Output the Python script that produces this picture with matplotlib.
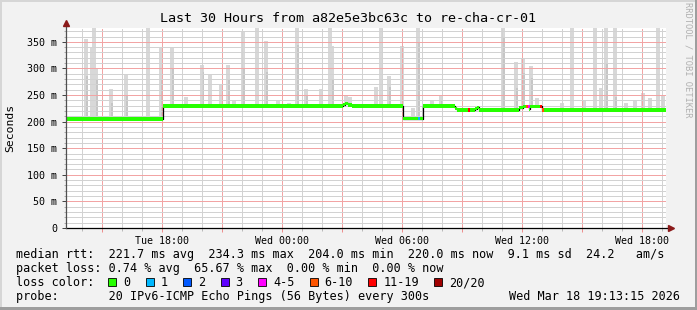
import matplotlib
matplotlib.use('Agg')
import matplotlib.pyplot as plt
import matplotlib.dates as mdates
from matplotlib.patches import Rectangle
import numpy as np
import pandas as pd

plt.rcParams['font.family'] = ['DejaVu Sans Mono']

start = pd.Timestamp('2026-03-17 13:13:15')
end = pd.Timestamp('2026-03-18 19:13:15')

# median rtt in ms, as change points of a step line
median_times = ['2026-03-17 13:13', '2026-03-17 18:05', '2026-03-18 03:04', '2026-03-18 03:10',
                '2026-03-18 03:19', '2026-03-18 03:31', '2026-03-18 06:05', '2026-03-18 07:05',
                '2026-03-18 08:39', '2026-03-18 08:46', '2026-03-18 09:40', '2026-03-18 09:46',
                '2026-03-18 09:52', '2026-03-18 11:52', '2026-03-18 12:04', '2026-03-18 12:21',
                '2026-03-18 12:26', '2026-03-18 13:01', '2026-03-18 19:12']
median_ms = [205.0, 229.5, 232.0, 234.3, 231.5, 229.5, 205.5, 229.5, 225.0, 222.0,
             224.5, 227.0, 222.0, 226.0, 228.5, 224.0, 228.5, 221.5, 221.5]

# smoke spikes: highest ping and second highest ping (0 = none)
spike_times = ['2026-03-17 14:13', '2026-03-17 14:31', '2026-03-17 14:37', '2026-03-17 14:43',
               '2026-03-17 15:28', '2026-03-17 16:13', '2026-03-17 17:19', '2026-03-17 17:58',
               '2026-03-17 18:31', '2026-03-17 19:13', '2026-03-17 20:01', '2026-03-17 20:25',
               '2026-03-17 20:58', '2026-03-17 21:19', '2026-03-17 21:37', '2026-03-17 22:04',
               '2026-03-17 22:46', '2026-03-17 23:13', '2026-03-17 23:49', '2026-03-18 00:22',
               '2026-03-18 00:46', '2026-03-18 01:13', '2026-03-18 01:58', '2026-03-18 02:25',
               '2026-03-18 02:31', '2026-03-18 03:13', '2026-03-18 03:25', '2026-03-18 04:43',
               '2026-03-18 04:58', '2026-03-18 05:22', '2026-03-18 06:01', '2026-03-18 06:34',
               '2026-03-18 06:49', '2026-03-18 07:31', '2026-03-18 07:58', '2026-03-18 11:04',
               '2026-03-18 11:43', '2026-03-18 12:04', '2026-03-18 12:28', '2026-03-18 12:46',
               '2026-03-18 14:01', '2026-03-18 14:31', '2026-03-18 15:07', '2026-03-18 15:40',
               '2026-03-18 15:58', '2026-03-18 16:13', '2026-03-18 16:40', '2026-03-18 17:13',
               '2026-03-18 17:40', '2026-03-18 18:04', '2026-03-18 18:25', '2026-03-18 18:49',
               '2026-03-18 19:04']
spike_top = [355, 338, 390, 300, 261, 288, 390, 339, 341, 247, 307, 290, 270, 307, 241, 368,
             390, 351, 240, 235, 390, 261, 261, 390, 342, 250, 247, 265, 390, 285, 343, 225,
             390, 238, 250, 390, 312, 317, 304, 244, 235, 390, 241, 390, 263, 390, 390, 235,
             238, 253, 245, 390, 250]
spike_mid = [286, 0, 0, 280, 235, 248, 0, 278, 300, 0, 293, 0, 0, 278, 0, 300,
             0, 294, 0, 0, 344, 250, 0, 0, 278, 0, 0, 0, 0, 265, 0, 0,
             347, 0, 240, 357, 263, 291, 282, 0, 0, 0, 0, 0, 0, 310, 247, 0,
             0, 0, 0, 0, 0]

# samples with packet loss (index into loss_labels)
loss_times = ['2026-03-18 06:49', '2026-03-18 09:19', '2026-03-18 12:14', '2026-03-18 12:19',
              '2026-03-18 12:56', '2026-03-18 13:01']
loss_cat = [1, 6, 5, 4, 6, 5]

loss_labels = ['0', '1', '2', '3', '4-5', '6-10', '11-19', '20/20']
loss_colors = ['#26ff00', '#00b8ff', '#0059ff', '#5e00ff', '#ff00ff', '#ff5500', '#ff0000', '#a00000']

rtt_stats = [221.7, 234.3, 204.0, 220.0]
rtt_sd = 9.1
rtt_ams = 24.2
loss_stats = [0.74, 65.67, 0.00, 0.00]

W, H = 697, 310
fig = plt.figure(figsize=(W / 100, H / 100), dpi=100, facecolor='#f2f2f2')


def fx(px):
    return px / W


def fy(py):
    return 1 - py / H


# 3d frame
fig.patches.append(Rectangle((0, 0), fx(2), 1, transform=fig.transFigure, color='#d6d6d6', lw=0))
fig.patches.append(Rectangle((0, 1 - 2 / H), 1, 2 / H, transform=fig.transFigure, color='#d6d6d6', lw=0))
fig.patches.append(Rectangle((1 - 2 / W, 0), 2 / W, 1, transform=fig.transFigure, color='#9e9e9e', lw=0))
fig.patches.append(Rectangle((0, 0), 1, 3 / H, transform=fig.transFigure, color='#9e9e9e', lw=0))

ax = fig.add_axes([fx(66), fy(228), 600 / W, 200 / H])
ax.set_facecolor('white')

mt = mdates.date2num(pd.to_datetime(median_times))
mv = np.array(median_ms)
step_min = 1 / 1440.0

# smoke
st = mdates.date2num(pd.to_datetime(spike_times))
base = mv[np.searchsorted(mt, st, side='right') - 1]
top = np.array(spike_top, dtype=float)
mid = np.array(spike_mid, dtype=float)
ax.bar(st, top - base, bottom=base, width=10 * step_min, color='#d8d8d8', lw=0, zorder=1)
has_mid = mid > 0
ax.bar(st[has_mid] + 3 * step_min, mid[has_mid] - base[has_mid], bottom=base[has_mid],
       width=6 * step_min, color='#c6c6c6', lw=0, zorder=1.1)

# median line with loss colour band
band = 3.2
ax.step(mt, mv, where='post', color='black', lw=0.9, zorder=3)
ax.fill_between(mt, mv - band, mv + band, step='post', color=loss_colors[0], lw=0, zorder=3.2)
lt = mdates.date2num(pd.to_datetime(loss_times))
lbase = mv[np.searchsorted(mt, lt, side='right') - 1]
ax.bar(lt, 2 * band, bottom=lbase - band, width=5 * step_min, align='edge',
       color=[loss_colors[c] for c in loss_cat], lw=0, zorder=3.4)

ax.set_xlim(mdates.date2num(start), mdates.date2num(end))
ax.set_ylim(0, 376)

# grid and ticks
ax.xaxis.set_major_locator(mdates.HourLocator(byhour=range(0, 24, 3)))
ax.xaxis.set_minor_locator(mdates.HourLocator())


def xfmt(x, pos):
    d = mdates.num2date(x)
    return d.strftime('%a %H:%M') if d.hour % 6 == 0 else ''


ax.xaxis.set_major_formatter(plt.FuncFormatter(xfmt))
ax.set_yticks(np.arange(0, 351, 50))
ax.set_yticks(np.arange(0, 376, 10), minor=True)
ax.set_yticklabels(['0'] + ['%d m' % v for v in range(50, 351, 50)])

ax.set_axisbelow(False)
ax.grid(which='minor', color='#d2d2d2', lw=0.72, ls=(0, (1, 1)), zorder=2,
        antialiased=False, snap=True)
ax.grid(which='major', color='#f2a4a4', lw=0.72, ls=(0, (1, 1)), zorder=2.1,
        antialiased=False, snap=True)

for s in ax.spines.values():
    s.set_visible(False)
ax.tick_params(axis='x', which='major', length=3, width=0.7, color='#ec8c8c', pad=2.5, labelsize=7.2)
ax.tick_params(axis='x', which='minor', length=2, width=0.7, color='#b8b8b8')
ax.tick_params(axis='y', which='major', length=3, width=0.7, color='#404040', pad=3.5, labelsize=7.2)
ax.tick_params(axis='y', which='minor', length=1.5, width=0.6, color='#a0a0a0')

ax.plot([0, 1.005], [0, 0], transform=ax.transAxes, color='black', lw=0.9, clip_on=False, zorder=5)
ax.plot([0, 0], [0, 1.015], transform=ax.transAxes, color='#505050', lw=0.9, clip_on=False, zorder=5)
ax.plot(1.0085, 0, marker='>', ms=4, color='#8b1a1a', transform=ax.transAxes, clip_on=False, zorder=6)
ax.plot(0, 1.024, marker='^', ms=4, color='#8b1a1a', transform=ax.transAxes, clip_on=False, zorder=6)

fig.text(0.5, fy(19), 'Last 30 Hours from a82e5e3bc63c to re-cha-cr-01',
         ha='center', va='center', fontsize=9.6)
fig.text(fx(10), fy(128), 'Seconds', rotation=90, ha='center', va='center', fontsize=8.2)
fig.text(fx(688), fy(60), 'RRDTOOL / TOBI OETIKER', rotation=270, ha='center', va='center',
         fontsize=6.3, color='#b0b0b0')

# legend
fs = 8.5
cw = 7.1
row1 = 'median rtt:  %.1f ms avg  %.1f ms max  %.1f ms min  %.1f ms now  %.1f ms sd  %.1f   am/s' % (
    rtt_stats[0], rtt_stats[1], rtt_stats[2], rtt_stats[3], rtt_sd, rtt_ams)
row2 = 'packet loss: %.2f %% avg  %.2f %% max  %.2f %% min  %.2f %% now' % tuple(loss_stats)
fig.text(fx(16), fy(258), row1, fontsize=fs, va='baseline')
fig.text(fx(16), fy(272), row2, fontsize=fs, va='baseline')
fig.text(fx(16), fy(286), 'loss color:', fontsize=fs, va='baseline')
fig.text(fx(16), fy(300), 'probe:       20 IPv6-ICMP Echo Pings (56 Bytes) every 300s',
         fontsize=fs, va='baseline')
fig.text(fx(680), fy(300), 'Wed Mar 18 19:13:15 2026', fontsize=fs, va='baseline', ha='right')

bx = 16 + 13 * cw
for lab, col in zip(loss_labels, loss_colors):
    fig.patches.append(Rectangle((fx(bx), fy(286)), 8 / W, 8 / H, transform=fig.transFigure,
                                 facecolor=col, edgecolor='black', lw=0.6))
    fig.text(fx(bx + 15), fy(286), lab, fontsize=fs, va='baseline')
    bx = bx + 15 + len(lab) * cw + 15.3

fig.savefig('out.png', dpi=100, facecolor=fig.get_facecolor())
